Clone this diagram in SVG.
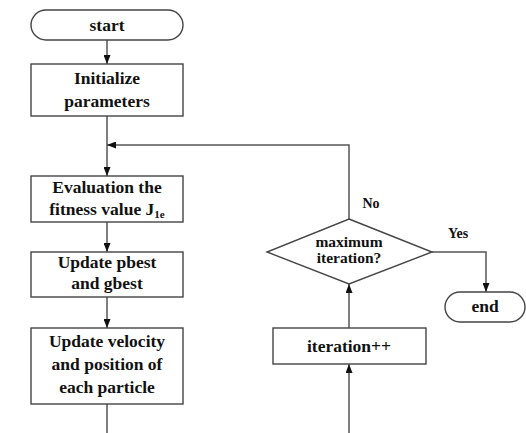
<svg xmlns="http://www.w3.org/2000/svg" width="526" height="433" viewBox="0 0 526 433">
<style>
.b{fill:#fff;stroke:#444;stroke-width:1.4}
.c{fill:none;stroke:#555;stroke-width:1.5}
text{font-family:"Liberation Serif","Times New Roman",Times,serif;font-weight:bold;fill:#111;text-anchor:middle}
.t{font-size:17.5px}
.d{font-size:15.5px}
.l{font-size:14px}
</style>
<defs>
<marker id="a" markerWidth="9" markerHeight="7" refX="9" refY="3.5" orient="auto" markerUnits="userSpaceOnUse">
<path d="M0,0 L9,3.5 L0,7 Z" fill="#111"/>
</marker>
</defs>
<g id="connectors">
<line class="c" x1="107" y1="40" x2="107" y2="64" marker-end="url(#a)"/>
<line class="c" x1="107" y1="116" x2="107" y2="176" marker-end="url(#a)"/>
<polyline class="c" points="349,219 349,145 107,145" marker-end="url(#a)"/>
<line class="c" x1="107" y1="222" x2="107" y2="252" marker-end="url(#a)"/>
<line class="c" x1="107" y1="297" x2="107" y2="328" marker-end="url(#a)"/>
<line class="c" x1="107" y1="404" x2="107" y2="433"/>
<polyline class="c" points="432,252 486,252 486,292" marker-end="url(#a)"/>
<line class="c" x1="349" y1="433" x2="349" y2="364" marker-end="url(#a)"/>
<line class="c" x1="349" y1="328" x2="349" y2="284" marker-end="url(#a)"/>
<text class="l" x="371" y="208">No</text>
<text class="l" x="458" y="238">Yes</text>
</g>
<g id="start">
<rect class="b" x="31" y="10" width="152" height="30" rx="15"/>
<text class="t" x="107" y="31">start</text>
</g>
<g id="init">
<rect class="b" x="31" y="64" width="152" height="52"/>
<text class="t" x="107" y="84">Initialize</text>
<text class="t" x="107" y="107">parameters</text>
</g>
<g id="eval">
<rect class="b" x="31" y="176" width="152" height="46"/>
<text class="t" x="107" y="193">Evaluation the</text>
<text class="t" x="107" y="215">fitness value J<tspan font-size="11" dy="3">1e</tspan></text>
</g>
<g id="pbest">
<rect class="b" x="31" y="252" width="152" height="45"/>
<text class="t" x="107" y="268">Update pbest</text>
<text class="t" x="107" y="289">and gbest</text>
</g>
<g id="velocity">
<rect class="b" x="31" y="328" width="152" height="76"/>
<text class="t" x="107" y="347">Update velocity</text>
<text class="t" x="107" y="370">and position of</text>
<text class="t" x="107" y="393">each particle</text>
</g>
<g id="decision">
<polygon class="b" points="349,219 432,252 349,284 267,252"/>
<text class="d" x="349" y="247">maximum</text>
<text class="d" x="349" y="263">iteration?</text>
</g>
<g id="iteration">
<rect class="b" x="273" y="328" width="153" height="36"/>
<text class="t" x="349" y="352">iteration++</text>
</g>
<g id="end">
<rect class="b" x="445" y="292" width="80" height="30" rx="15"/>
<text class="t" x="485" y="312">end</text>
</g>
</svg>
